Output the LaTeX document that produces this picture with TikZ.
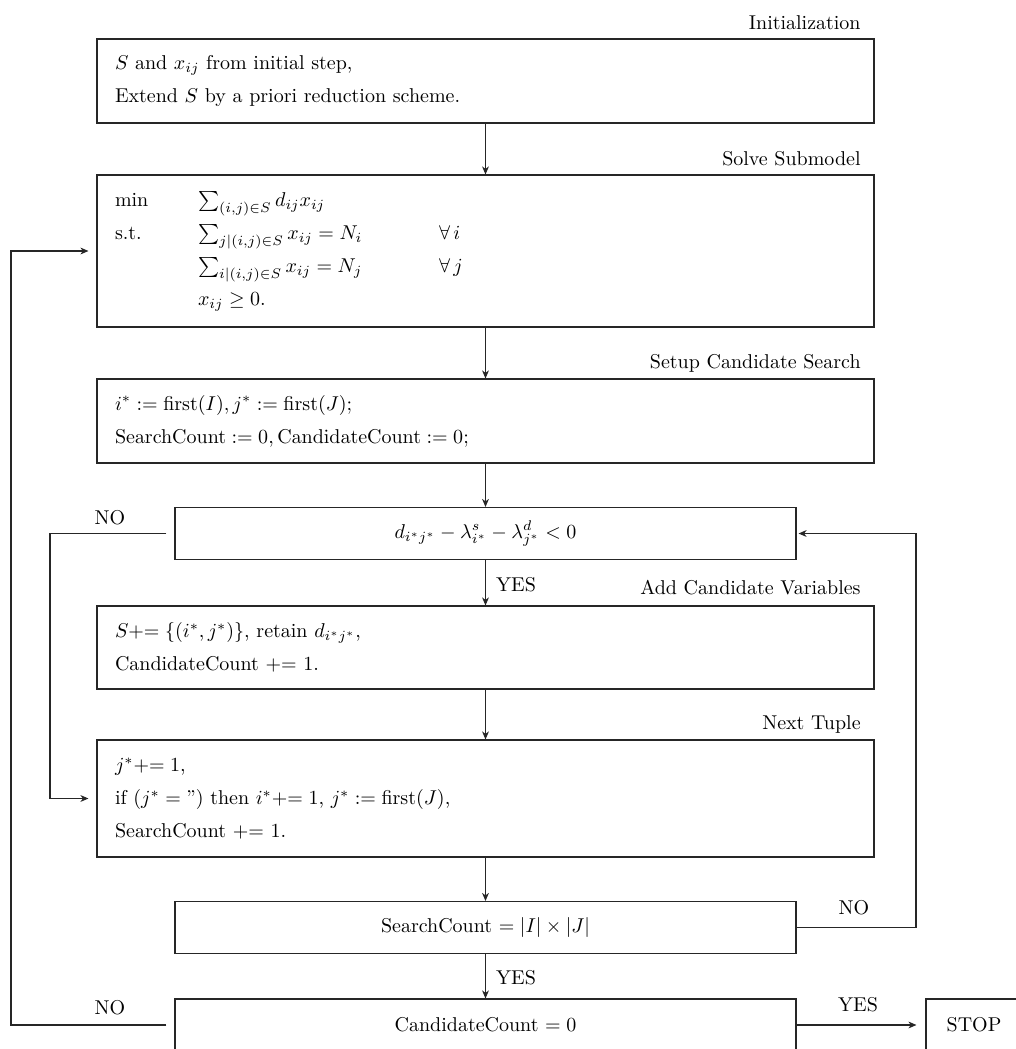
\documentclass[tikz,border=0pt]{standalone}
\usetikzlibrary{arrows.meta}
\begin{document}
\begin{tikzpicture}[x=0.5pt,y=-0.5pt,
  txt/.style={font=\fontsize{10}{16.5}\selectfont, inner sep=0pt},
  bigbox/.style={draw=black!85, line width=0.55pt, font=\fontsize{10}{16.5}\selectfont,
    align=left, text width=370.5pt, inner xsep=9pt, inner ysep=0pt, minimum height=#1},
  decbox/.style={draw=black!85, line width=0.55pt, font=\fontsize{10}{16.5}\selectfont,
    minimum width=310.5pt, minimum height=26pt, inner sep=0pt},
  lbl/.style={txt, anchor=base east},
  yn/.style={txt, anchor=base},
  arr/.style={draw=black!85, line width=0.55pt, -{Stealth[length=4pt,width=3.4pt,inset=1.2pt]}}
]
\useasboundingbox (0,0) rectangle (1016,1049);
\clip (0,0) rectangle (1016,1049);

% boxes
\node[bigbox=42pt] (b1) at (485.5,81)
  {$S$ and $x_{ij}$ from initial step,\\ Extend $S$ by a priori reduction scheme.};
\node[bigbox=76pt] (b2) at (485.5,251)
  {\makebox[41.5pt][l]{min}$\sum_{(i,j)\in S} d_{ij}x_{ij}$\\
   \makebox[41.5pt][l]{s.t.}\makebox[120.5pt][l]{$\sum_{j|(i,j)\in S} x_{ij} = N_i$}$\forall\, i$\\
   \makebox[41.5pt][l]{}\makebox[120.5pt][l]{$\sum_{i|(i,j)\in S} x_{ij} = N_j$}$\forall\, j$\\
   \makebox[41.5pt][l]{}$x_{ij} \geq 0$.};
\node[bigbox=42pt] (b3) at (485.5,421)
  {$i^* := \mathrm{first}(I), j^* := \mathrm{first}(J)$;\\
   $\mathrm{SearchCount} := 0, \mathrm{CandidateCount} := 0$;};
\node[decbox] (d1) at (485.5,533.5)
  {$d_{i^*j^*} - \lambda^s_{i^*} - \lambda^d_{j^*} < 0$};
\node[bigbox=41.5pt] (b4) at (485.5,647.5)
  {$S{+}{=}\;\{(i^*,j^*)\}$, retain $d_{i^*j^*}$,\\ CandidateCount ${+}{=}$ 1.};
\node[bigbox=58.5pt] (b5) at (485.5,798.5)
  {$j^*{+}{=}\;1$,\\
   if $(j^* = \textrm{''})$ then $i^*{+}{=}\;1$, $j^* := \mathrm{first}(J)$,\\
   SearchCount ${+}{=}$ 1.};
\node[decbox] (d2) at (485.5,927.5) {SearchCount $= |I| \times |J|$};
\node[decbox] (d3) at (485.5,1025) {CandidateCount $= 0$};
\node[draw=black!85, line width=0.55pt, font=\fontsize{10}{16.5}\selectfont,
  minimum width=48pt, minimum height=26pt, inner sep=0pt] (stop) at (974,1025) {STOP};

% section labels
\node[lbl] (l1) at (861,29) {Initialization};
\node[lbl] (l2) at (861,165) {Solve Submodel};
\node[lbl] (l3) at (861,368) {Setup Candidate Search};
\node[lbl] (l4) at (861,594) {Add Candidate Variables};
\node[lbl] (l5) at (861,729) {Next Tuple};

% straight flow
\draw[arr] (b1) -- (b2);
\draw[arr] (b2) -- (b3);
\draw[arr] (b3) -- (d1);
\draw[arr] (d1) -- (b4);
\draw[arr] (b4) -- (b5);
\draw[arr] (b5) -- (d2);
\draw[arr] (d2) -- (d3);
\draw[arr, shorten >=4.5pt] (d3) -- (stop);

% loops
\coordinate (nl) at (50,533.5);
\draw[arr, shorten <=4pt, shorten >=4pt] (d1.west) -- (nl) |- (b5.west);
\coordinate (nr) at (916,927.5);
\draw[arr, shorten >=1pt] (d2.east) -- (nr) |- (d1.east);
\coordinate (nb) at (11,1025);
\draw[arr, shorten <=4pt, shorten >=4pt] (d3.west) -- (nb) |- (b2.west);

% yes/no labels
\node[yn] (y1) at (516,591) {YES};
\node[yn] (y2) at (516,984) {YES};
\node[yn] (y3) at (858,1011) {YES};
\node[yn] (n1) at (110,524) {NO};
\node[yn] (n2) at (854,914) {NO};
\node[yn] (n3) at (110,1014) {NO};
\end{tikzpicture}
\end{document}
